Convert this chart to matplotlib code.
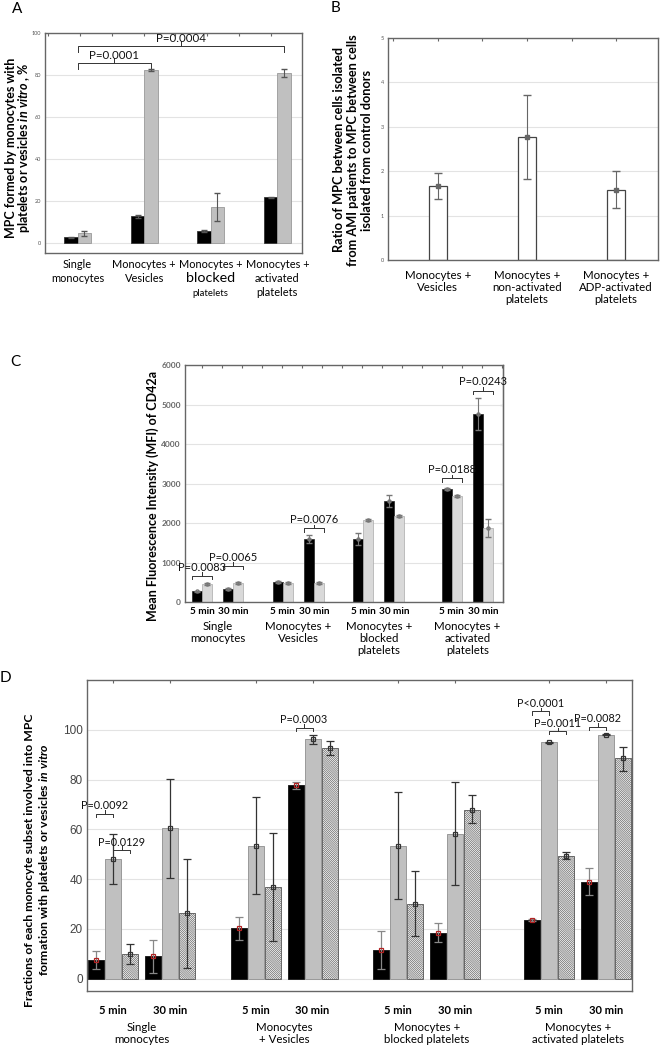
import numpy as np
import matplotlib
matplotlib.use('Agg')
import matplotlib.pyplot as plt

plt.rcParams['font.family'] = ['Lato', 'DejaVu Sans']
plt.rcParams['mathtext.fontset'] = 'custom'
plt.rcParams['mathtext.it'] = 'Lato:italic:bold'
plt.rcParams['mathtext.rm'] = 'Lato:bold'
plt.rcParams['hatch.color'] = '#444444'
plt.rcParams['hatch.linewidth'] = 0.5

# ---- panel A data ----
a_labels = [['Single', 'monocytes'], ['Monocytes +', 'Vesicles'],
            ['Monocytes +', 'blocked', 'platelets'], ['Monocytes +', 'activated', 'platelets']]
a_black = [2.5, 12.5, 5.5, 21.5]
a_black_err = [0.3, 0.8, 0.3, 0.3]
a_grey = [4.5, 82.3, 17.0, 81.0]
a_grey_err = [1.2, 0.3, 6.5, 2.0]
a_pvals = [(0, 1, 85.6, 'P=0.0001'), (0, 3, 93.6, 'P=0.0004')]

# ---- panel B data ----
b_labels = ['Monocytes +\nVesicles', 'Monocytes +\nnon-activated\nplatelets', 'Monocytes +\nADP-activated\nplatelets']
b_vals = [1.67, 2.77, 1.58]
b_lo = [1.38, 1.82, 1.18]
b_hi = [1.95, 3.72, 2.00]

# ---- panel C data ----
c_groups = ['Single\nmonocytes', 'Monocytes +\nVesicles', 'Monocytes +\nblocked\nplatelets', 'Monocytes +\nactivated\nplatelets']
c_times = ['5 min', '30 min']
c_black = [270, 337, 505, 1600, 1600, 2560, 2856, 4760]
c_black_err = [20, 25, 30, 100, 145, 160, 30, 400]
c_grey = [455, 480, 480, 480, 2064, 2165, 2687, 1879]
c_grey_err = [20, 20, 20, 20, 25, 25, 25, 230]
c_pvals = [(0, 665, 'P=0.0083'), (1, 918, 'P=0.0065'), (3, 1870, 'P=0.0076'),
           (6, 3134, 'P=0.0188'), (7, 5350, 'P=0.0243')]

# ---- panel D data ----
d_groups = ['Single\nmonocytes', 'Monocytes\n+ Vesicles', 'Monocytes +\nblocked platelets', 'Monocytes +\nactivated platelets']
d_times = ['5 min', '30 min']
d_black = [7.4, 9.1, 20.3, 77.6, 11.5, 18.5, 23.6, 38.9]
d_black_lo = [3.8, 2.4, 15.4, 76.2, 4.0, 14.5, 23.3, 33.7]
d_black_hi = [11.1, 15.6, 24.8, 79.2, 19.2, 22.5, 23.9, 44.3]
d_grey = [48.0, 60.4, 53.4, 96.1, 53.2, 58.1, 95.0, 98.0]
d_grey_lo = [38.0, 40.3, 34.0, 94.4, 32.0, 37.6, 94.8, 97.8]
d_grey_hi = [58.0, 80.3, 73.0, 98.0, 74.9, 79.2, 95.2, 98.2]
d_hatch = [10.0, 26.2, 36.6, 92.6, 30.0, 67.8, 49.1, 88.7]
d_hatch_lo = [6.0, 4.4, 15.0, 90.0, 17.2, 62.4, 48.0, 83.6]
d_hatch_hi = [14.0, 48.0, 58.4, 95.3, 43.4, 73.6, 50.7, 93.0]
d_pvals = [(0, 0, 1, 66.2, 'P=0.0092'), (0, 1, 2, 51.7, 'P=0.0129'), (3, 0, 1, 100.8, 'P=0.0003'),
           (6, 0, 1, 107.4, 'P<0.0001'), (6, 1, 2, 99.5, 'P=0.0011'), (7, 0, 1, 101.3, 'P=0.0082')]

SPINE = '#666666'
GRID = '#e3e3e3'


def _frame(ax, tick_fs, tick_col='#555555', bold=False):
    for s in ax.spines.values():
        s.set_color(SPINE)
        s.set_linewidth(1.0)
    ax.tick_params(axis='y', length=0, labelsize=tick_fs, colors=tick_col, pad=3)
    ax.tick_params(axis='x', length=0, labelbottom=False)
    if bold:
        for t in ax.get_yticklabels():
            t.set_fontweight('bold')
    ax.yaxis.grid(True, color=GRID, lw=0.8)
    ax.set_axisbelow(True)


def _top_ticks(ax, xs):
    ax2 = ax.secondary_xaxis('top')
    ax2.set_xticks(xs)
    ax2.tick_params(direction='in', length=2.5, color=SPINE, labeltop=False)
    ax2.spines['top'].set_visible(False)


def _bracket(ax, x0, x1, y, d, txt, fs, dy=0.0):
    xm = 0.5 * (x0 + x1)
    ax.plot([x0, x0, xm, xm, xm, x1, x1], [y - d, y, y, y + d, y, y, y - d],
            color='#333333', lw=0.7, clip_on=False)
    ax.text(xm, y + d * 0.9 + dy, txt, ha='center', va='bottom', fontsize=fs, color='#111111')


def _under(ax, x, txt, off_px, fs, weight='normal', va='center'):
    ax.annotate(txt, xy=(x, 0), xycoords=('data', 'axes fraction'),
                xytext=(0, -off_px * 0.72), textcoords='offset points',
                ha='center', va=va, fontsize=fs, fontweight=weight,
                linespacing=1.1, annotation_clip=False)


def _vlabel(lines, xc, yc, fs, gap):
    # one fig.text per line, stacked left to right (rotated text)
    n = len(lines)
    for i, ln in enumerate(lines):
        x = xc + (i - (n - 1) / 2) * gap
        fig.text(x / W, 1 - yc / H, ln, rotation=90, ha='center', va='center',
                 fontsize=fs, fontweight='bold')


fig = plt.figure(figsize=(6.6, 10.5), dpi=100)
W, H = 660.0, 1050.0


def _axes(l, t, r, b):
    return fig.add_axes([l / W, 1 - b / H, (r - l) / W, (b - t) / H])


# ================= A =================
ax = _axes(45, 33, 302, 253)
xa = np.arange(len(a_black))
bw = 0.2
ax.bar(xa - bw / 2, a_black, bw, color='black', edgecolor='#333333', lw=0.6, zorder=2)
ax.bar(xa + bw / 2, a_grey, bw, color='#c0c0c0', edgecolor='#999999', lw=0.6, zorder=2)
ax.errorbar(xa - bw / 2, a_black, yerr=a_black_err, fmt='none', ecolor='#555555', elinewidth=0.8, capsize=2.5, zorder=3)
ax.errorbar(xa + bw / 2, a_grey, yerr=a_grey_err, fmt='none', ecolor='#555555', elinewidth=0.8, capsize=2.5, zorder=3)
ax.set_xlim(-0.49, 3.37)
ax.set_ylim(-5, 100)
ax.set_yticks(np.arange(0, 101, 20))
_frame(ax, 4)
_top_ticks(ax, np.arange(-0.45, 3.4, 0.48))
for g0, g1, y, txt in a_pvals:
    _bracket(ax, xa[g0], xa[g1] + bw / 2, y, 2.6, txt, 8.3, dy=-1.2)
for i, lines in enumerate(a_labels):
    offs = [11, 25, 40]
    for j, ln in enumerate(lines):
        fs = 7.9
        if ln == 'blocked':
            fs = 10.3
        elif i == 2 and j == 2:
            fs = 6.8
        _under(ax, xa[i], ln, offs[j], fs)
_vlabel(['MPC formed by monocytes with', 'platelets or vesicles $in\\ vitro$ , %'], 18, 148, 9.0, 13)
fig.text(17 / W, 1 - 9 / H, 'A', ha='center', va='center', fontsize=11)

# ================= B =================
ax = _axes(388, 38, 658, 260)
xb = np.arange(len(b_vals))
ax.bar(xb, b_vals, 0.21, color='white', edgecolor='#444444', lw=0.9, zorder=2)
yerr_b = [np.array(b_vals) - np.array(b_lo), np.array(b_hi) - np.array(b_vals)]
ax.errorbar(xb, b_vals, yerr=yerr_b, fmt='s', ms=2.5, color='#666666', ecolor='#666666',
            elinewidth=0.8, capsize=3, zorder=3)
ax.set_xlim(-0.56, 2.47)
ax.set_ylim(0, 5)
ax.set_yticks(np.arange(0, 6, 1))
_frame(ax, 4)
_top_ticks(ax, np.arange(-0.5, 2.5, 0.5))
for i, lab in enumerate(b_labels):
    _under(ax, xb[i], lab, 10, 8.3, va='top')
_vlabel(['Ratio of MPC between cells isolated', 'from AMI patients to MPC between cells',
         'isolated from control donors'], 353, 150, 9.2, 14.5)
fig.text(335 / W, 1 - 8 / H, 'B', ha='center', va='center', fontsize=11)

# ================= C =================
ax = _axes(185, 365, 503, 602)
c_gpos = [0.0, 2.6, 5.2, 8.05]
xc = np.array([g + k for g in c_gpos for k in range(len(c_times))])
cw = 0.32
ax.bar(xc - cw / 2, c_black, cw, color='black', edgecolor='#222222', lw=0.5, zorder=2)
ax.bar(xc + cw / 2, c_grey, cw, color='#d9d9d9', edgecolor='#aaaaaa', lw=0.5, zorder=2)
ax.errorbar(xc - cw / 2, c_black, yerr=c_black_err, fmt='o', ms=2.2, mfc='none', mec='#777777',
            ecolor='#777777', elinewidth=0.8, capsize=2, zorder=3)
ax.errorbar(xc + cw / 2, c_grey, yerr=c_grey_err, fmt='o', ms=2.2, mfc='none', mec='#777777',
            ecolor='#777777', elinewidth=0.8, capsize=2, zorder=3)
ax.set_xlim(-0.55, 9.7)
ax.set_ylim(0, 6000)
ax.set_yticks(np.arange(0, 6001, 1000))
_frame(ax, 6, tick_col='#666666', bold=True)
_top_ticks(ax, np.arange(-0.0, 9.7, 0.645))
axr = ax.secondary_yaxis('right')
axr.set_yticks(np.arange(1000, 6000, 1000))
axr.tick_params(direction='in', length=2.5, color=SPINE, labelright=False)
for k, y, txt in c_pvals:
    _bracket(ax, xc[k] - cw, xc[k] + cw, y, 90, txt, 8)
for i, x in enumerate(xc):
    _under(ax, x, c_times[i % 2], 10, 7.2, weight='bold')
for i, g in enumerate(c_gpos):
    _under(ax, g + 0.5, c_groups[i], 19, 8.3, va='top')
fig.text(153 / W, 1 - 496 / H, 'Mean Fluorescence Intensity (MFI) of CD42a',
         rotation=90, ha='center', va='center', fontsize=9, fontweight='bold')
fig.text(15 / W, 1 - 362 / H, 'C', ha='center', va='center', fontsize=11)

# ================= D =================
ax = _axes(87, 680, 632, 991)
d_gpos = [0.0, 2.5, 5.0, 7.65]
xd = np.array([g + k for g in d_gpos for k in range(len(d_times))])
dw = 0.298
series = [(d_black, d_black_lo, d_black_hi, dict(color='black', edgecolor='#222222'), '#b22222', '#888888'),
          (d_grey, d_grey_lo, d_grey_hi, dict(color='#c0c0c0', edgecolor='#999999'), '#333333', '#333333'),
          (d_hatch, d_hatch_lo, d_hatch_hi, dict(color='white', edgecolor='#666666', hatch='\\' * 16), '#333333', '#333333')]
for j, (vals, lo, hi, st, mcol, ecol) in enumerate(series):
    xs = xd + (j - 1) * dw
    ax.bar(xs, vals, dw * 0.94, lw=0.7, zorder=2, **st)
    v = np.array(vals)
    ax.errorbar(xs, vals, yerr=[v - np.array(lo), np.array(hi) - v], fmt='s', ms=3, mfc='none',
                mec=mcol, mew=0.9, ecolor=ecol, elinewidth=0.9, capsize=3, zorder=3)
ax.set_xlim(-0.456, 9.1)
ax.set_ylim(-5, 120)
ax.set_yticks(np.arange(0, 101, 20))
_frame(ax, 8.5, tick_col='#444444')
for t in ax.get_yticklabels():
    t.set_fontfamily(['Liberation Sans Narrow', 'Liberation Sans'])
_top_ticks(ax, xd)
for k, b0, b1, y, txt in d_pvals:
    _bracket(ax, xd[k] + (b0 - 1) * dw, xd[k] + (b1 - 1) * dw, y, 1.4, txt, 7.8, dy=-0.3)
for i, x in enumerate(xd):
    _under(ax, x, d_times[i % 2], 20, 8, weight='bold')
for i, g in enumerate(d_gpos):
    _under(ax, g + 0.5, d_groups[i], 31, 8.3, va='top')
_vlabel(['Fractions of each monocyte subset involved into MPC',
         'formation with platelets or vesicles $in\\ vitro$'], 37, 860, 8.8, 15)
fig.text(5 / W, 1 - 678 / H, 'D', ha='center', va='center', fontsize=11)

fig.savefig('out.png', dpi=100)
